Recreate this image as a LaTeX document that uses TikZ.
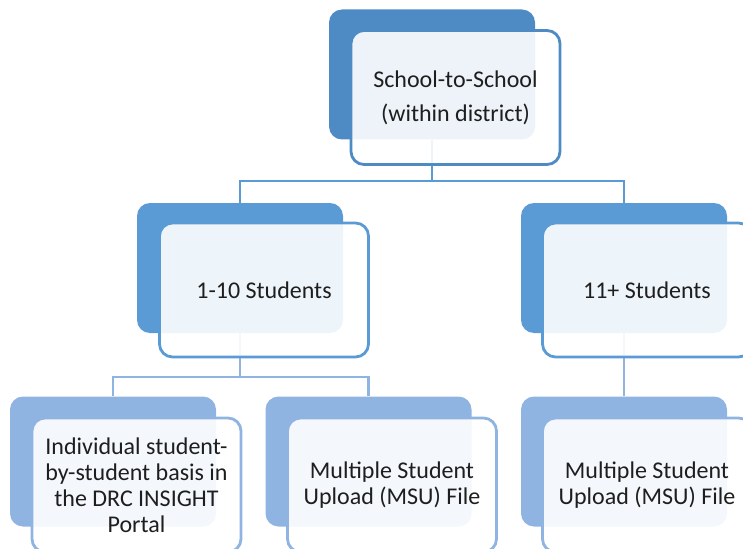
\documentclass[tikz,border=0pt]{standalone}
\usepackage{fontspec}
\setmainfont{Carlito}
\definecolor{lvA}{HTML}{4E8AC4}
\definecolor{lvB}{HTML}{5B9BD5}
\definecolor{lvC}{HTML}{8FB4E1}
\definecolor{txt}{HTML}{1E1E1E}
\tikzset{
  backbox/.style={rectangle, rounded corners=13pt, minimum width=206pt, minimum height=130pt, inner sep=0pt, draw=none, fill=#1},
  frontbox/.style={rectangle, rounded corners=13pt, minimum width=209pt, minimum height=134pt, inner sep=0pt, draw=#1, line width=2.8pt, fill=white, fill opacity=0.9, draw opacity=1, text opacity=1, text=txt, align=center, font=\fontsize{24}{26}\selectfont},
  conn/.style={draw=#1, line width=2.8pt}
}
\begin{document}
\begin{tikzpicture}[x=1pt,y=-1pt]
\useasboundingbox (0,0) rectangle (743,548);
\clip (0,0) rectangle (743,548);
% junction points
\coordinate (j1) at (432,181);
\coordinate (j2) at (240,377);
% back boxes
\node[backbox=lvA] (b1) at (432,74.5) {};
\node[backbox=lvB] (b2l) at (240,268) {};
\node[backbox=lvB] (b2r) at (624,268) {};
\node[backbox=lvC] (b3l) at (113,461.5) {};
\node[backbox=lvC] (b3m) at (368.5,461.5) {};
\node[backbox=lvC] (b3r) at (624,461.5) {};
% connectors
\draw[conn=lvB] (b1.south) -- (j1) -| (b2l.north);
\draw[conn=lvB] (j1) -| (b2r.north);
\draw[conn=lvC] (b2l.south) -- (j2) -| (b3l.north);
\draw[conn=lvC] (j2) -| (b3m.north);
\draw[conn=lvC] (b2r.south) -- (b3r.north);
% front boxes
\node[frontbox=lvA] (f1) at (455.5,97.5) {School-to-School\\[8pt](within district)};
\node[frontbox=lvB] (f2l) at (264,290) {1-10 Students};
\node[frontbox=lvB] (f2r) at (647,290) {11+ Students};
\node[frontbox=lvC] (f3l) at (136.5,485) {Individual student-\\by-student basis in\\the DRC INSIGHT\\Portal};
\node[frontbox=lvC] (f3m) at (392,485) {Multiple Student\\Upload (MSU) File};
\node[frontbox=lvC] (f3r) at (647,485) {Multiple Student\\Upload (MSU) File};
\end{tikzpicture}
\end{document}
